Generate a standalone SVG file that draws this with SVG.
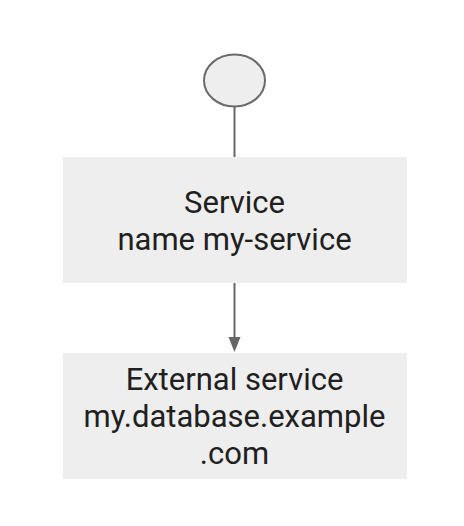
<svg xmlns="http://www.w3.org/2000/svg" width="464" height="526" viewBox="0 0 464 526">
<style>
.box{fill:#eeeeee}
.lbl{font-family:Roboto,"Liberation Sans",sans-serif;font-size:31px;fill:#202020;text-anchor:middle}
.edge{stroke:#666666;stroke-width:2;fill:none}
</style>
<rect width="464" height="526" fill="#ffffff"/>
<g id="connectors">
<line class="edge" x1="234.5" y1="107" x2="234.5" y2="157"/>
<line class="edge" x1="234.5" y1="283" x2="234.5" y2="338"/>
<polygon points="228.5,337 240.5,337 234.5,352" fill="#666666"/>
</g>
<g id="start">
<ellipse cx="234.5" cy="80.5" rx="30.5" ry="26" fill="#eeeeee" stroke="#6a6a6a" stroke-width="2"/>
</g>
<g id="service">
<rect class="box" x="63" y="157" width="344" height="126"/>
<text class="lbl" x="234.5" y="213">Service</text>
<text class="lbl" x="234.5" y="250">name my-service</text>
</g>
<g id="external">
<rect class="box" x="63" y="353" width="344" height="126"/>
<text class="lbl" x="234.5" y="390">External service</text>
<text class="lbl" x="234.5" y="427">my.database.example</text>
<text class="lbl" x="234.5" y="464">.com</text>
</g>
</svg>
